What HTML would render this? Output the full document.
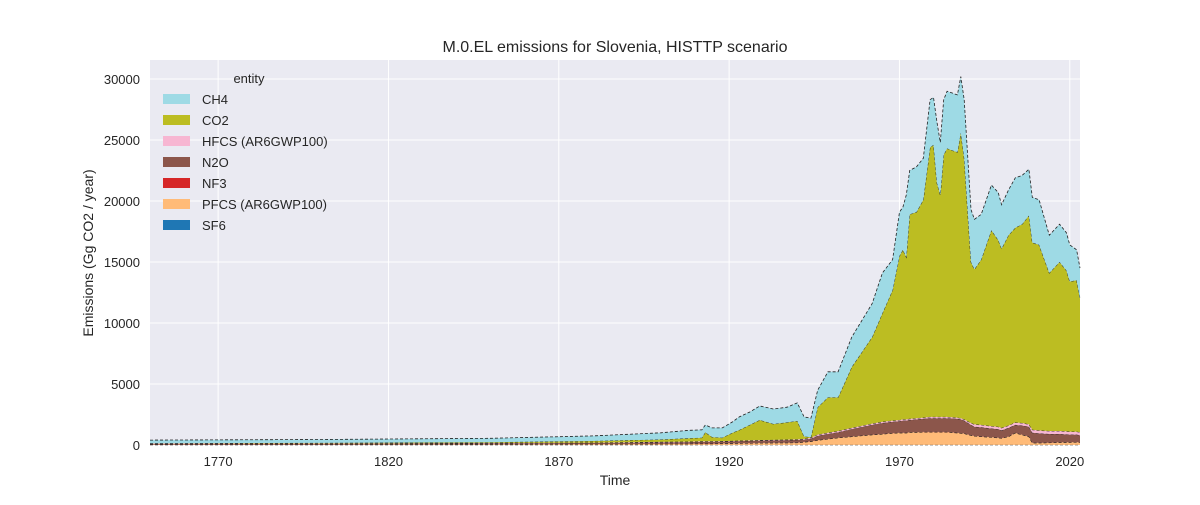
<!DOCTYPE html>
<html><head><meta charset="utf-8"><style>
body{margin:0;background:#fff;}
svg text{font-family:"Liberation Sans",sans-serif;fill:#262626;}
</style></head><body>
<svg id="chart" width="1200" height="500" xmlns="http://www.w3.org/2000/svg">
<rect x="150" y="60" width="930" height="385" fill="#eaeaf2"/>
<g id="grid"></g>
<g id="areas"></g>
<g id="xticks"></g>
<g id="yticks"></g>
<text x="615" y="52" font-size="16" text-anchor="middle">M.0.EL emissions for Slovenia, HISTTP scenario</text>
<text x="615" y="485" font-size="14" text-anchor="middle">Time</text>
<text x="93" y="253" font-size="14" text-anchor="middle" transform="rotate(-90 93 253)">Emissions (Gg CO2 / year)</text>
<g id="legend"></g>
</svg>
<script>
const years=[1750,1800,1850,1880,1900,1908,1912,1913,1915,1918,1921,1923,1926,1929,1933,1937,1940,1942,1944,1946,1949,1952,1956,1962,1965,1968,1970,1971,1972,1973,1975,1977,1979,1980,1981,1982,1983,1984,1987,1988,1989,1991,1992,1994,1997,1999,2000,2002,2004,2006,2008,2009,2011,2014,2017,2019,2020,2022,2023];
const ch4=[250,280,320,420,550,650,650,590,750,800,890,1070,1060,1150,1230,1250,1480,1600,1570,1400,2100,2100,2450,2750,3300,2500,3600,3500,5100,3600,3700,3400,3900,3900,5000,4300,4500,4700,4700,4600,4800,4300,4100,3700,3700,3900,3600,3700,4100,4000,3800,3700,3700,3100,3100,3100,3000,2500,2500];
const co2=[30,40,70,130,200,270,300,740,340,280,660,870,1260,1650,1300,1410,1510,200,30,2250,2900,2750,5000,7100,8900,10700,13450,13900,13300,16750,16900,17850,22100,22300,19200,18200,21500,22000,21750,23400,21400,13200,12700,13550,16050,15300,14700,15600,15950,16300,17100,15350,15200,12950,13850,13180,12300,12400,10950];
const hfcs=[20,20,30,30,40,40,40,40,40,40,40,40,40,40,40,40,40,60,80,100,100,100,100,100,100,100,100,100,100,100,100,100,100,100,100,100,100,100,100,100,100,150,200,200,200,200,200,200,200,200,200,250,250,250,250,250,250,250,250];
const n2o=[60,65,70,90,110,130,140,150,150,150,160,170,180,190,200,210,220,190,220,350,400,450,600,800,900,920,950,1000,1000,1000,1050,1080,1130,1130,1130,1130,1130,1130,1150,1120,1050,850,750,750,700,700,630,700,650,750,800,820,770,700,680,650,620,610,570];
const pfcs=[20,25,40,60,80,90,100,100,100,110,120,130,140,150,160,170,180,230,280,380,480,580,680,830,880,960,980,980,980,1030,1030,1050,1050,1050,1050,1050,1050,1050,980,960,930,780,730,680,630,580,550,680,980,830,680,160,160,180,200,200,210,220,210];
const nf3=years.map(()=>10);
const sf6=years.map(()=>10);
const series=[["SF6",sf6,"#1f77b4"],["PFCS (AR6GWP100)",pfcs,"#ffbb78"],["NF3",nf3,"#d62728"],["N2O",n2o,"#8c564b"],["HFCS (AR6GWP100)",hfcs,"#f7b6d2"],["CO2",co2,"#bcbd22"],["CH4",ch4,"#9edae5"]];
const xTicks=[1770,1820,1870,1920,1970,2020];
const yTicks=[0,5000,10000,15000,20000,25000,30000];
const NS="http://www.w3.org/2000/svg";
const X=yr=>150+(yr-1750)*(930/273);
const Y=v=>445-v*0.0122;
function mk(tag,attrs,parent){const e=document.createElementNS(NS,tag);for(const k in attrs)e.setAttribute(k,attrs[k]);parent.appendChild(e);return e;}
const grid=document.getElementById('grid'),xt=document.getElementById('xticks'),yt=document.getElementById('yticks');
xTicks.forEach(t=>{const l=mk('line',{x1:X(t),x2:X(t),y1:60,y2:445,stroke:'#fff','stroke-width':1},grid);


const tx=mk('text',{x:X(t),y:466,'font-size':13,'text-anchor':'middle'},xt);tx.textContent=t;

});
yTicks.forEach(t=>{const l=mk('line',{x1:150,x2:1080,y1:Y(t),y2:Y(t),stroke:'#fff','stroke-width':1},grid);


const tx=mk('text',{x:140,y:Y(t)+5,'font-size':13,'text-anchor':'end'},yt);tx.textContent=t;

});
const areas=document.getElementById('areas');
let base=years.map(()=>0);
series.forEach(([name,vals,col])=>{
 const top=base.map((b,i)=>b+vals[i]);
 let d='M'+years.map((yr,i)=>X(yr).toFixed(1)+','+Y(top[i]).toFixed(1)).join('L');
 for(let i=years.length-1;i>=0;i--)d+='L'+X(years[i]).toFixed(1)+','+Y(base[i]).toFixed(1);
 const p=mk('path',{d:d+'Z',fill:col,stroke:'none'},areas);
 
 
 const ld='M'+years.map((yr,i)=>X(yr).toFixed(1)+','+Y(top[i]).toFixed(1)).join('L');
 const ln=mk('path',{d:ld,fill:'none',stroke:'#222','stroke-width':0.8,'stroke-dasharray':'3,2'},areas);
 
 
 base=top;
});
const lg=document.getElementById('legend');
const t0=mk('text',{x:249,y:83,'font-size':13,'text-anchor':'middle'},lg);t0.textContent='entity';


series.slice().reverse().forEach(([name,vals,col],i)=>{
 const yy=99+i*21;
 const r=mk('rect',{x:163,y:yy-5,width:27,height:10,fill:col},lg);
 
 
 const tx=mk('text',{x:202,y:yy+5,'font-size':13},lg);tx.textContent=name;
 
 
});
</script>
</body></html>
